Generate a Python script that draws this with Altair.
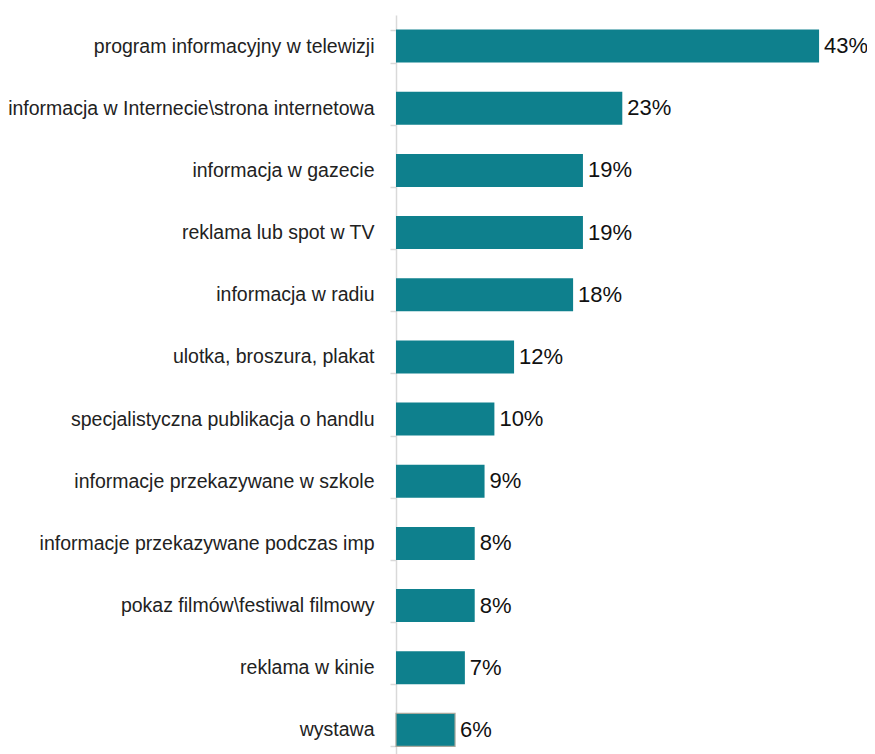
import altair as alt
import pandas as pd

categories = [
    "program informacyjny w telewizji",
    "informacja w Internecie\\strona internetowa",
    "informacja w gazecie",
    "reklama lub spot w TV",
    "informacja w radiu",
    "ulotka, broszura, plakat",
    "specjalistyczna publikacja o handlu",
    "informacje przekazywane w szkole",
    "informacje przekazywane podczas imp",
    "pokaz filmów\\festiwal filmowy",
    "reklama w kinie",
    "wystawa",
]
values = [43, 23, 19, 19, 18, 12, 10, 9, 8, 8, 7, 6]
labels = [f"{v}%" for v in values]
outlined = [False] * 11 + [True]

df = pd.DataFrame({"cat": categories, "val": values, "label": labels, "outlined": outlined})

y = alt.Y("cat:N", sort=categories, title=None,
          scale=alt.Scale(paddingInner=0.47, paddingOuter=0.235),
          axis=alt.Axis(domainColor="#d9d9d9", domainWidth=1.5, tickColor="#d9d9d9",
                        tickWidth=1.5, tickSize=6, tickBand="extent",
                        labelFont="Liberation Sans", labelFontSize=19.5, labelColor="#222222",
                        labelPadding=16, labelLimit=400))
x = alt.X("val:Q", title=None, scale=alt.Scale(domain=[0, 47.87]), axis=None)

bars = alt.Chart(df).mark_bar(color="#0E808D").encode(
    x=x, y=y,
    stroke=alt.condition("datum.outlined", alt.value("#a8a89c"), alt.value(None)),
    strokeWidth=alt.condition("datum.outlined", alt.value(1.2), alt.value(0)),
)
text = alt.Chart(df).mark_text(align="left", dx=5, font="Liberation Sans", fontSize=22,
                               color="#111111", baseline="middle").encode(
    x=x, y=alt.Y("cat:N", sort=categories), text="label:N")

chart = (bars + text).properties(
    width=471, height=746,
    autosize=alt.AutoSizeParams(type="none"),
    padding={"left": 388, "top": 7, "right": 0, "bottom": 0},
).configure_view(stroke=None)

chart.save("out.html", embed_options={"renderer": "svg", "actions": False})
